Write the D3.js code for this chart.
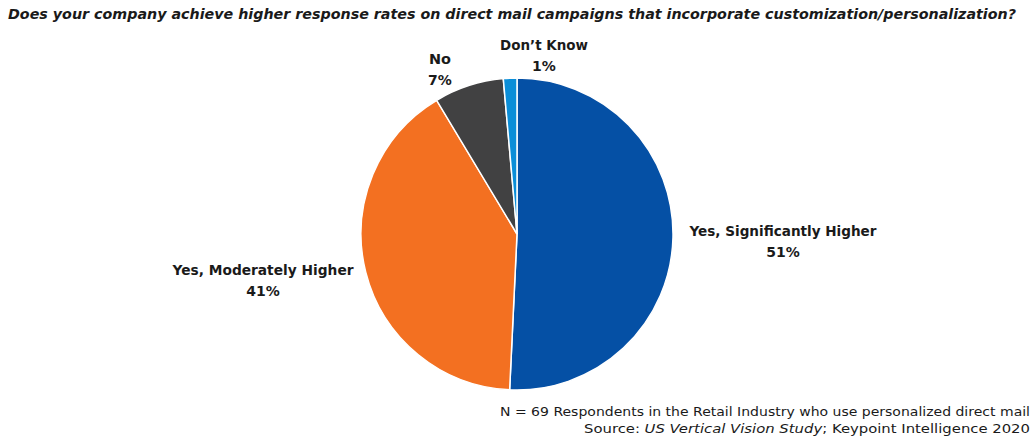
<!DOCTYPE html>
<html>
<head>
<meta charset="utf-8">
<script src="https://cdn.jsdelivr.net/npm/d3@7"></script>
<style>
  html, body { margin: 0; padding: 0; background: #fff; }
  svg { display: block; }
  text { font-family: "DejaVu Sans", "Noto Sans", sans-serif; fill: #1a1a1a; }
</style>
</head>
<body>
<svg id="chart" width="1036" height="439"></svg>
<script>
// ---- data ----
const categories = ["Yes, Significantly Higher", "Yes, Moderately Higher", "No", "Don\u2019t Know"];
const values = [50.7, 40.6, 7.2, 1.4];
const valueLabels = ["51%", "41%", "7%", "1%"];
const colors = ["#0550A5", "#F37021", "#414142", "#0B8ED8"];
const title = "Does your company achieve higher response rates on direct mail campaigns that incorporate customization/personalization?";
const footnote1 = "N = 69 Respondents in the Retail Industry who use personalized direct mail";

// ---- layout ----
const W = 1036, H = 439;
const cx = 517, cy = 234, R = 156;
// label anchor (center x, first baseline y) and measured width of the category line
const labelLayout = [
  { x: 783, y: 236, w: 187 },
  { x: 263, y: 275, w: 181 },
  { x: 440, y: 64,  w: 22 },
  { x: 544, y: 50,  w: 88 }
];

const svg = d3.select("#chart");

// title
svg.append("text")
  .attr("x", 8).attr("y", 19)
  .attr("font-size", 14).attr("font-weight", "bold").attr("font-style", "italic")
  .attr("textLength", 1008).attr("lengthAdjust", "spacingAndGlyphs")
  .text(title);

// pie
const pie = d3.pie().sort(null).value(d => d);
const arcs = pie(values);
const arc = d3.arc().innerRadius(0).outerRadius(R);

const g = svg.append("g").attr("transform", `translate(${cx},${cy})`);
g.selectAll("path")
  .data(arcs)
  .join("path")
  .attr("d", arc)
  .attr("fill", (d, i) => colors[i])
  .attr("stroke", "#fff")
  .attr("stroke-width", 1.5);

// labels
const lg = svg.append("g");
categories.forEach((c, i) => {
  const L = labelLayout[i];
  lg.append("text")
    .attr("x", L.x).attr("y", L.y)
    .attr("text-anchor", "middle")
    .attr("font-size", 14).attr("font-weight", "bold")
    .attr("textLength", L.w).attr("lengthAdjust", "spacingAndGlyphs")
    .text(c);
  lg.append("text")
    .attr("x", L.x).attr("y", L.y + 21)
    .attr("text-anchor", "middle")
    .attr("font-size", 14).attr("font-weight", "bold")
    .text(valueLabels[i]);
});

// footnotes
svg.append("text")
  .attr("x", 1030).attr("y", 416)
  .attr("text-anchor", "end")
  .attr("font-size", 13)
  .attr("textLength", 530).attr("lengthAdjust", "spacingAndGlyphs")
  .text(footnote1);

const src = svg.append("text")
  .attr("x", 1030).attr("y", 433)
  .attr("text-anchor", "end")
  .attr("font-size", 13)
  .attr("textLength", 446).attr("lengthAdjust", "spacingAndGlyphs");
src.append("tspan").text("Source: ");
src.append("tspan").attr("font-style", "italic").text("US Vertical Vision Study");
src.append("tspan").text("; Keypoint Intelligence 2020");
</script>
</body>
</html>
